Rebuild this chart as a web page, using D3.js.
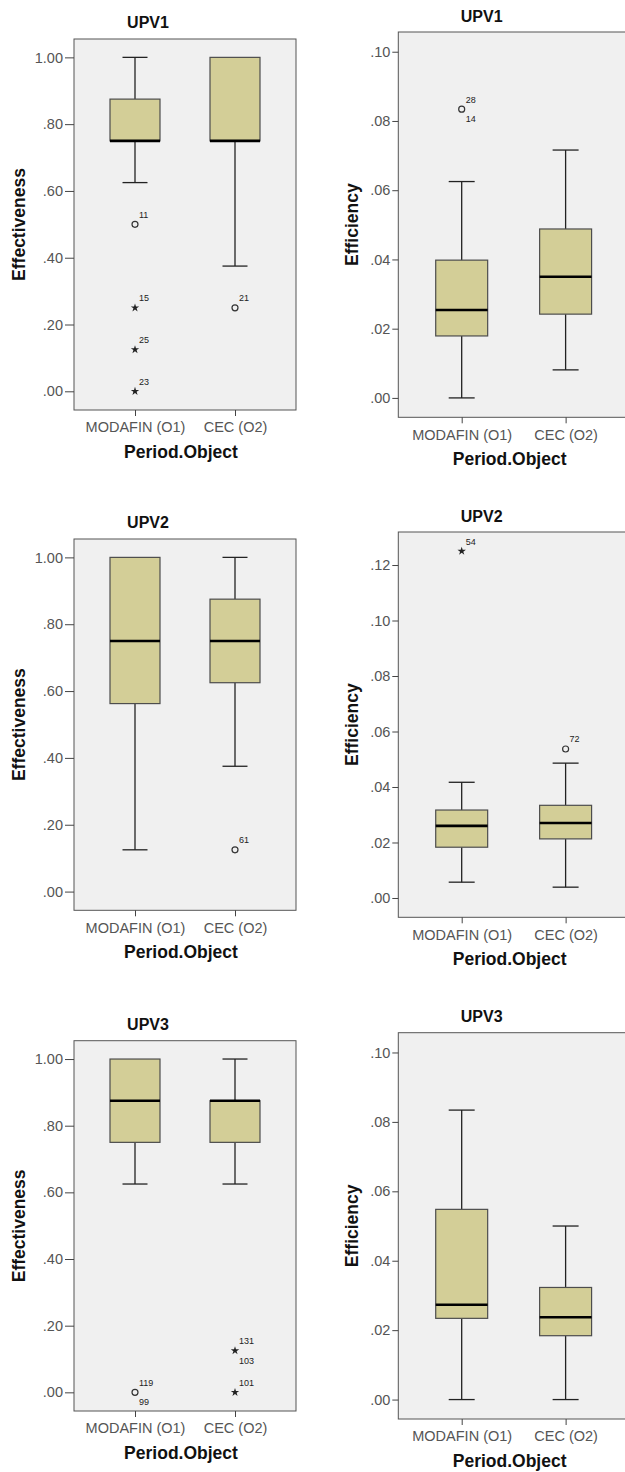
<!DOCTYPE html>
<html>
<head>
<meta charset="utf-8">
<script src="https://cdn.jsdelivr.net/npm/d3@7"></script>
<style>
  html, body { margin: 0; padding: 0; background: #ffffff; }
  svg { display: block; }
</style>
</head>
<body>
<svg id="chart" width="625" height="1472"></svg>
<script>
// ---------------- DATA ----------------
const categories = ["MODAFIN (O1)", "CEC (O2)"];
const panelTitles = ["UPV1", "UPV1", "UPV2", "UPV2", "UPV3", "UPV3"];
const yAxisTitles = ["Effectiveness", "Efficiency"];
const xAxisTitle = "Period.Object";

const effectivenessTicks = [0, 0.2, 0.4, 0.6, 0.8, 1.0];
const efficiencyTicksA = [0, 0.02, 0.04, 0.06, 0.08, 0.10];
const efficiencyTicksB = [0, 0.02, 0.04, 0.06, 0.08, 0.10, 0.12];

// box statistics: [low whisker, Q1, median, Q3, high whisker] per category
const upv1Effectiveness = [
  [0.625, 0.75, 0.75, 0.875, 1.0],
  [0.375, 0.75, 0.75, 1.0, 1.0]
];
const upv1Efficiency = [
  [0.0, 0.0179, 0.0254, 0.0398, 0.0625],
  [0.0081, 0.0242, 0.0350, 0.0488, 0.0716]
];
const upv2Effectiveness = [
  [0.125, 0.5625, 0.75, 1.0, 1.0],
  [0.375, 0.625, 0.75, 0.875, 1.0]
];
const upv2Efficiency = [
  [0.0057, 0.0183, 0.0260, 0.0317, 0.0417],
  [0.0039, 0.0213, 0.0270, 0.0334, 0.0486]
];
const upv3Effectiveness = [
  [0.625, 0.75, 0.875, 1.0, 1.0],
  [0.625, 0.75, 0.875, 0.875, 1.0]
];
const upv3Efficiency = [
  [0.0, 0.0234, 0.0273, 0.0548, 0.0834],
  [0.0, 0.0184, 0.0237, 0.0323, 0.0500]
];

// outliers: [category index, value, kind ("o" or "*"), label above, label below]
const upv1EffectivenessOutliers = [
  [0, 0.5, "o", "11", ""],
  [0, 0.25, "*", "15", ""],
  [0, 0.125, "*", "25", ""],
  [0, 0.0, "*", "23", ""],
  [1, 0.25, "o", "21", ""]
];
const upv1EfficiencyOutliers = [
  [0, 0.0834, "o", "28", "14"]
];
const upv2EffectivenessOutliers = [
  [1, 0.125, "o", "61", ""]
];
const upv2EfficiencyOutliers = [
  [0, 0.125, "*", "54", ""],
  [1, 0.0537, "o", "72", ""]
];
const upv3EffectivenessOutliers = [
  [0, 0.0, "o", "119", "99"],
  [1, 0.125, "*", "131", "103"],
  [1, 0.0, "*", "101", ""]
];
const upv3EfficiencyOutliers = [];

// ---------------- LAYOUT ----------------
const svg = d3.select("#chart");
const FONT = "'Liberation Sans', Arial, Helvetica, sans-serif";

const leftCol = { x0: 74, x1: 296, titleX: 148, yTitleX: 19, tickSize: 9 };
const rightCol = { x0: 398.3, x1: 629, titleX: 481.7, yTitleX: 351.7, tickSize: 6 };

const panels = [
  { col: leftCol, top: 39, bottom: 410, domain: [-0.056, 1.055], ticks: effectivenessTicks,
    stats: upv1Effectiveness, outliers: upv1EffectivenessOutliers, title: panelTitles[0], yTitle: yAxisTitles[0], titleGap: 11 },
  { col: rightCol, top: 32, bottom: 417.3, domain: [-0.0056, 0.1057], ticks: efficiencyTicksA,
    stats: upv1Efficiency, outliers: upv1EfficiencyOutliers, title: panelTitles[1], yTitle: yAxisTitles[1], titleGap: 10.5 },
  { col: leftCol, top: 539, bottom: 910.3, domain: [-0.056, 1.055], ticks: effectivenessTicks,
    stats: upv2Effectiveness, outliers: upv2EffectivenessOutliers, title: panelTitles[2], yTitle: yAxisTitles[0], titleGap: 11 },
  { col: rightCol, top: 532, bottom: 917.3, domain: [-0.00696, 0.1319], ticks: efficiencyTicksB,
    stats: upv2Efficiency, outliers: upv2EfficiencyOutliers, title: panelTitles[3], yTitle: yAxisTitles[1], titleGap: 10.5 },
  { col: leftCol, top: 1040.7, bottom: 1411, domain: [-0.056, 1.055], ticks: effectivenessTicks,
    stats: upv3Effectiveness, outliers: upv3EffectivenessOutliers, title: panelTitles[4], yTitle: yAxisTitles[0], titleGap: 11 },
  { col: rightCol, top: 1032.7, bottom: 1419, domain: [-0.0056, 0.1057], ticks: efficiencyTicksA,
    stats: upv3Efficiency, outliers: upv3EfficiencyOutliers, title: panelTitles[5], yTitle: yAxisTitles[1], titleGap: 10.5 }
];

const fmt = v => d3.format(".2f")(v).replace(/^0/, "");

panels.forEach(p => {
  const c = p.col;
  const g = svg.append("g");
  const x = d3.scalePoint().domain(categories).range([c.x0, c.x1]).padding(0.61);
  const y = d3.scaleLinear().domain(p.domain).range([p.bottom, p.top]);
  const step = x.step();
  const bw = step * 0.5, cw = step * 0.25;

  // frame
  g.append("rect")
    .attr("x", c.x0).attr("y", p.top)
    .attr("width", c.x1 - c.x0).attr("height", p.bottom - p.top)
    .attr("fill", "#f0f0f0").attr("stroke", "#555").attr("stroke-width", 1);

  // y axis
  const ya = g.append("g").attr("transform", `translate(${c.x0},0)`)
    .call(d3.axisLeft(y).tickValues(p.ticks).tickSize(c.tickSize).tickPadding(2).tickFormat(fmt));
  ya.select(".domain").remove();
  ya.selectAll("line").attr("stroke", "#444");
  ya.selectAll("text").attr("font-family", FONT).attr("font-size", "14.5px").attr("fill", "#555");

  // x axis
  const xa = g.append("g").attr("transform", `translate(0,${p.bottom})`)
    .call(d3.axisBottom(x).tickSize(6).tickPadding(6));
  xa.select(".domain").remove();
  xa.selectAll("line").attr("stroke", "#444");
  xa.selectAll("text").attr("font-family", FONT).attr("font-size", "14.5px").attr("fill", "#555");

  // titles
  g.append("text").attr("x", c.titleX).attr("y", p.top - p.titleGap)
    .attr("text-anchor", "middle").attr("font-family", FONT).attr("font-weight", "bold")
    .attr("font-size", "16px").attr("fill", "#111").text(p.title);
  g.append("text").attr("x", (c.x0 + Math.min(c.x1, 2 * x(categories[1]) - x(categories[0]) - step * 0.0 + 0)) / 2)
    .attr("x", (x(categories[0]) + x(categories[1])) / 2 - 4)
    .attr("y", p.bottom + 48)
    .attr("text-anchor", "middle").attr("font-family", FONT).attr("font-weight", "bold")
    .attr("font-size", "17.5px").attr("fill", "#111").text(xAxisTitle);
  g.append("text")
    .attr("transform", `translate(${c.yTitleX + 6},${(p.top + p.bottom) / 2}) rotate(-90)`)
    .attr("text-anchor", "middle").attr("font-family", FONT).attr("font-weight", "bold")
    .attr("font-size", "17.5px").attr("fill", "#111").text(p.yTitle);

  // boxes
  p.stats.forEach((s, i) => {
    const [lo, q1, med, q3, hi] = s;
    const cx = x(categories[i]);
    const bg = g.append("g");
    if (hi > q3) {
      bg.append("line").attr("x1", cx).attr("x2", cx).attr("y1", y(q3)).attr("y2", y(hi))
        .attr("stroke", "#222").attr("stroke-width", 1.3);
      bg.append("line").attr("x1", cx - cw / 2).attr("x2", cx + cw / 2).attr("y1", y(hi)).attr("y2", y(hi))
        .attr("stroke", "#222").attr("stroke-width", 1.3);
    }
    if (lo < q1) {
      bg.append("line").attr("x1", cx).attr("x2", cx).attr("y1", y(q1)).attr("y2", y(lo))
        .attr("stroke", "#222").attr("stroke-width", 1.3);
      bg.append("line").attr("x1", cx - cw / 2).attr("x2", cx + cw / 2).attr("y1", y(lo)).attr("y2", y(lo))
        .attr("stroke", "#222").attr("stroke-width", 1.3);
    }
    bg.append("rect").attr("x", cx - bw / 2).attr("y", y(q3))
      .attr("width", bw).attr("height", y(q1) - y(q3))
      .attr("fill", "#d3ce97").attr("stroke", "#4d4d4d").attr("stroke-width", 1.2);
    bg.append("line").attr("x1", cx - bw / 2).attr("x2", cx + bw / 2).attr("y1", y(med)).attr("y2", y(med))
      .attr("stroke", "#000").attr("stroke-width", 2.6);
  });

  // outliers
  p.outliers.forEach(o => {
    const [ci, v, kind, above, below] = o;
    const cx = x(categories[ci]);
    const cy = y(v);
    if (kind === "o") {
      g.append("circle").attr("cx", cx).attr("cy", cy).attr("r", 3)
        .attr("fill", "none").attr("stroke", "#333").attr("stroke-width", 1.2);
    } else {
      g.append("path").attr("d", d3.symbol().type(d3.symbolStar).size(22)())
        .attr("transform", `translate(${cx},${cy})`).attr("fill", "#222");
    }
    if (above) {
      g.append("text").attr("x", cx + 4).attr("y", cy - 6.5)
        .attr("font-family", FONT).attr("font-size", "9px").attr("fill", "#222").text(above);
    }
    if (below) {
      g.append("text").attr("x", cx + 4).attr("y", cy + 13)
        .attr("font-family", FONT).attr("font-size", "9px").attr("fill", "#222").text(below);
    }
  });
});
</script>
</body>
</html>
